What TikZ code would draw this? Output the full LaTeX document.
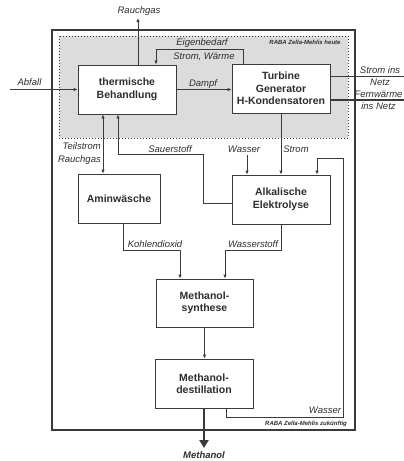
\documentclass[tikz,border=0pt]{standalone}
\usepackage{fontspec}
\setmainfont{Liberation Sans}
\usetikzlibrary{arrows.meta,calc}
\definecolor{ln}{HTML}{3A3A3A}
\definecolor{tx}{HTML}{2E2E2E}
\definecolor{bgf}{HTML}{DCDCDC}
\begin{document}
\begin{tikzpicture}[x=1pt,y=-1pt,
  box/.style={draw=ln,line width=0.8pt,fill=white,align=center,text=tx,
    font=\fontsize{10.5}{12.5}\selectfont\bfseries,inner sep=0pt},
  lbl/.style={text=tx,font=\fontsize{9.5}{12.5}\selectfont\itshape,inner sep=0pt,align=center},
  raba/.style={text=tx,font=\fontsize{6}{7}\selectfont\bfseries\itshape,inner sep=0pt},
  conn/.style={draw=ln,line width=0.8pt},
  arr/.style={conn,-{Latex[length=4pt,width=3.4pt]}},
  arrb/.style={conn,{Latex[length=4pt,width=3.4pt]}-{Latex[length=4pt,width=3.4pt]}}]
\useasboundingbox (0,0) rectangle (404,461);
\fill[white] (0,0) rectangle (404,461);
% outer and inner frames
\draw[ln,line width=1.2pt] (52,30) rectangle (355,430);
\fill[bgf] (59,36) rectangle (348,138);
\draw[ln,line width=1pt,dotted] (59,36) rectangle (348,138);
\node[raba] (rabah) at (305,42) {RABA Zella-Mehlis heute};
\node[raba] (rabaz) at (306,424) {RABA Zella-Mehlis zukünftig};
% boxes
\node[box,minimum width=98pt,minimum height=49pt] (therm) at (127,89.5) {thermische\\Behandlung};
\node[box,minimum width=98pt,minimum height=49pt] (turb) at (281,88.5) {Turbine\\Generator\\H-Kondensatoren};
\node[box,minimum width=82pt,minimum height=49pt] (amin) at (119,198.5) {Aminwäsche};
\node[box,minimum width=98pt,minimum height=49pt] (elek) at (281,199.5) {Alkalische\\Elektrolyse};
\node[box,minimum width=97pt,minimum height=48pt] (synth) at (204.5,303) {Methanol-\\synthese};
\node[box,minimum width=98pt,minimum height=49pt] (dest) at (204,383.5) {Methanol-\\destillation};
% coordinates
\coordinate (rauch) at (138,18);
\coordinate (abf) at (10,89.5);
\coordinate (snetz) at (404,76);
\coordinate (fnetz) at (404,100);
\coordinate (ts) at (103,0);
\coordinate (o1) at (203,154);
\coordinate (o2) at (118,154);
\coordinate (w1) at (247,155);
\coordinate (wr1) at (343,417);
\coordinate (wr2) at (317,158);
\coordinate (k1) at (180,250);
\coordinate (h1) at (225,250);
\coordinate (meth) at (204,448);
% connectors
\draw[arr] ([xshift=11pt]therm.north) -- (rauch);
\draw[arr] ([xshift=-38pt]turb.north) -- ++(0,-14) -| ([xshift=29pt]therm.north);
\draw[arr] (abf) -- (therm.west);
\draw[arr] (therm.east) -- (therm.east -| turb.west);
\draw[conn] (turb.east |- snetz) -- (snetz);
\draw[conn,line width=1.1pt] (turb.east |- fnetz) -- (fnetz);
\draw[arrb] (therm.south -| ts) -- (amin.north -| ts);
\draw[arr] (elek.west |- 0,203) -| (o1) -- (o2) -- (therm.south -| o2);
\draw[arr] (w1) -- (elek.north -| w1);
\draw[arr] (turb.south) -- (elek.north);
\draw[arr] ([xshift=22pt]dest.south) |- (wr1) |- (wr2) -- (elek.north -| wr2);
\draw[arr] ([xshift=4pt]amin.south) |- (k1) -- (synth.north -| k1);
\draw[arr] (elek.south) |- (h1) -- (synth.north -| h1);
\draw[arr] (synth.south) -- (synth.south |- dest.north);
\draw[ln,line width=2.4pt,-{Triangle[length=8pt,width=9pt]}] (dest.south) -- (meth);
% labels
\node[lbl] (lrauch) at (139,11) {Rauchgas};
\node[lbl] (leig) at (202,43.5) {Eigenbedarf};
\node[lbl] (lsw) at (204,56.5) {Strom, Wärme};
\node[lbl] (labf) at (29.5,82.5) {Abfall};
\node[lbl] (ldampf) at (203,84.5) {Dampf};
\node[lbl] (lsn) at (380,76) {Strom ins\\Netz};
\node[lbl] (lfw) at (378.5,100.5) {Fernwärme\\ins Netz};
\node[lbl,align=right,anchor=east] (lts) at (101,153.5) {Teilstrom\\Rauchgas};
\node[lbl] (lsauer) at (170,149.5) {Sauerstoff};
\node[lbl] (lwas) at (244,149) {Wasser};
\node[lbl] (lstrom) at (296,149) {Strom};
\node[lbl] (lkohl) at (155,244) {Kohlendioxid};
\node[lbl] (lwst) at (253,244.5) {Wasserstoff};
\node[lbl] (lwas2) at (325,410.5) {Wasser};
\node[lbl,font=\fontsize{9.5}{11}\selectfont\bfseries\itshape] (lmeth) at (204,455.5) {Methanol};
\end{tikzpicture}
\end{document}
